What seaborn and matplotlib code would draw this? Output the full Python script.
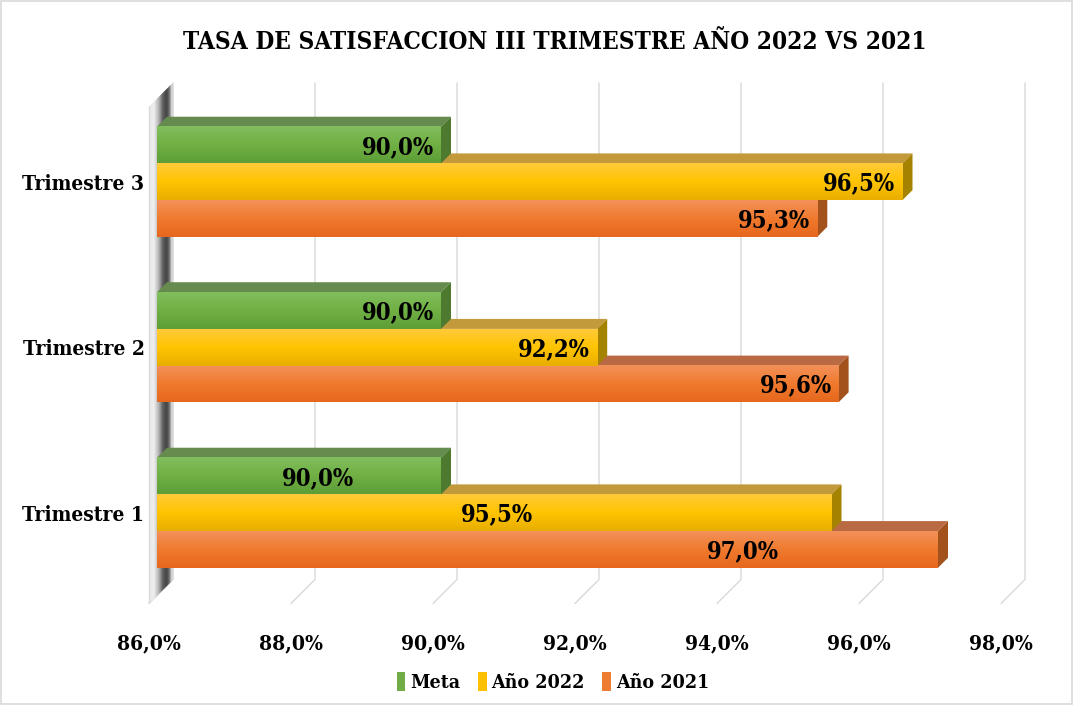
import matplotlib
matplotlib.use("Agg")
import matplotlib.pyplot as plt
import matplotlib.colors as mcolors
from matplotlib.patches import Polygon, Rectangle, Patch
from matplotlib.transforms import ScaledTranslation
import numpy as np
import pandas as pd
import seaborn as sns

# ---------------- data ----------------
categories = ["Trimestre 3", "Trimestre 2", "Trimestre 1"]
series = ["Meta", "Año 2022", "Año 2021"]
meta = [90.0, 90.0, 90.0]
anio_2022 = [96.5, 92.2, 95.5]
anio_2021 = [95.3, 95.6, 97.0]
x_ticks = [86, 88, 90, 92, 94, 96, 98]
title = "TASA DE SATISFACCION III TRIMESTRE AÑO 2022 VS 2021"

df = pd.DataFrame({
    "Trimestre": categories * 3,
    "Serie": [s for s in series for _ in categories],
    "Valor": meta + anio_2022 + anio_2021,
})

# ---------------- style ----------------
colors = {"Meta": "#70AD47", "Año 2022": "#FFC000", "Año 2021": "#ED7D31"}
grad = {  # top, middle, bottom of front face
    "Meta": ["#82be5e", "#6fb043", "#5e9d37"],
    "Año 2022": ["#ffca3a", "#ffc400", "#e8ae00"],
    "Año 2021": ["#f3915a", "#f07a2e", "#e6671d"],
}
top_col = {"Meta": "#668b4e", "Año 2022": "#c29a3b", "Año 2021": "#b96a42"}
side_col = {"Meta": "#4e7a30", "Año 2022": "#a58300", "Año 2021": "#a3521c"}

sns.set_theme(style="white")
plt.rcParams["font.family"] = ["DejaVu Serif"]
plt.rcParams["font.stretch"] = "condensed"
plt.rcParams["font.weight"] = "bold"
plt.rcParams["text.color"] = "black"

W, H = 1074, 705
fig = plt.figure(figsize=(W / 100, H / 100), dpi=100)
ax_left, ax_top, ax_w, ax_h = 157, 99, 852, 496.5
ax = fig.add_axes([ax_left / W, 1 - (ax_top + ax_h) / H, ax_w / W, ax_h / H])

sns.barplot(data=df, y="Trimestre", x="Valor", hue="Serie", order=categories,
            hue_order=series, palette=colors, orient="h", width=0.665,
            legend=False, ax=ax, saturation=1, errorbar=None)

XL = (86, 98)
YL = (2.5, -0.5)
dxp = (XL[1] - XL[0]) / ax_w      # data units per pixel (x)
dyp = (YL[0] - YL[1]) / ax_h      # data units per pixel (y, up = minus)
depth = 10                        # bar depth in px
back = 16                         # back wall offset in px
front = -8                        # floor front offset in px

zbase = {"Meta": 5, "Año 2022": 4, "Año 2021": 3}

for s, cont in zip(series, ax.containers):
    cmap = mcolors.LinearSegmentedColormap.from_list(s, grad[s])
    zb = zbase[s]
    for bar in cont:
        w = bar.get_width()
        y0 = bar.get_y()
        y1 = y0 + bar.get_height()
        bar.set_zorder(zb + 0.1)
        bar.set_edgecolor("none")
        x0 = XL[0]
        ddx, ddy = depth * dxp, depth * dyp
        topf = Polygon([(x0, y0), (w, y0), (w + ddx, y0 - ddy), (x0 + ddx, y0 - ddy)],
                       closed=True, facecolor=top_col[s], edgecolor="none", zorder=zb)
        side = Polygon([(w, y0), (w + ddx, y0 - ddy), (w + ddx, y1 - ddy), (w, y1)],
                       closed=True, facecolor=side_col[s], edgecolor="none", zorder=zb)
        ax.add_patch(topf)
        ax.add_patch(side)
        ax.imshow(np.linspace(0, 1, 64).reshape(-1, 1), cmap=cmap, aspect="auto",
                  extent=(x0, w, y1, y0), origin="upper", zorder=zb + 0.2,
                  interpolation="bilinear")

# data labels
t1_label_x = [88.27, 90.79, 94.25]
for si, (s, cont) in enumerate(zip(series, ax.containers)):
    for ci, bar in enumerate(cont):
        w = bar.get_width()
        yc = bar.get_y() + bar.get_height() / 2 + 0.01
        txt = f"{w:.1f}%".replace(".", ",")
        if categories[ci] == "Trimestre 1":
            ax.text(t1_label_x[si], yc, txt, ha="center", va="center",
                    fontsize=17, color="black", zorder=20)
        else:
            ax.text(w - 7 * dxp, yc, txt, ha="right", va="center",
                    fontsize=17, color="black", zorder=20)

# back wall (left side slab) drawn as thin shaded strips
wall_d = [-8, -7, -3, 2, 6, 10, 13, 15, 16]
wall_c = ["#c8c8c8", "#e6e6e6", "#f0f0f0", "#b4b4b4", "#606060",
          "#424242", "#7a7a7a", "#e8e8e8", "#c4c4c4"]
wcm = mcolors.LinearSegmentedColormap.from_list(
    "wall", list(zip([(d - wall_d[0]) / (wall_d[-1] - wall_d[0]) for d in wall_d], wall_c)))
for d in range(front, back):
    xa, xb = XL[0] + d * dxp, XL[0] + (d + 1) * dxp
    pts = [(xa, YL[1] - d * dyp), (xb, YL[1] - (d + 1) * dyp),
           (xb, YL[0] - (d + 1) * dyp), (xa, YL[0] - d * dyp)]
    c = wcm((d + 0.5 - front) / (back - front))
    ax.add_patch(Polygon(pts, closed=True, facecolor=c, edgecolor=c, lw=0.3,
                         zorder=1.5, clip_on=False))

# gridlines on the back wall + floor
for t in x_ticks:
    xs = [t + back * dxp, t + back * dxp, t + front * dxp]
    ys = [YL[1] - back * dyp, YL[0] - back * dyp, YL[0] - front * dyp]
    ax.plot(xs, ys, color="#d9d9d9", lw=1.0, zorder=1, clip_on=False)

ax.set_xlim(*XL)
ax.set_ylim(*YL)
ax.set_xticks(x_ticks)
ax.set_xticklabels([f"{t:.1f}%".replace(".", ",") for t in x_ticks])
ax.tick_params(axis="x", length=0, pad=27, labelsize=15, labelcolor="black")
ax.tick_params(axis="y", length=0, pad=9, labelsize=15, labelcolor="black")
for lab in ax.get_xticklabels():
    lab.set_transform(lab.get_transform() + ScaledTranslation(-8 / 100, 0, fig.dpi_scale_trans))
ax.set_xlabel("")
ax.set_ylabel("")
ax.grid(False)
for sp in ax.spines.values():
    sp.set_visible(False)
ax.patch.set_alpha(0)

fig.text(555 / W, 1 - 42 / H, title, ha="center", va="center", fontsize=17.5,
         color="black")

handles = [Patch(facecolor=colors[s], edgecolor="none") for s in series]
leg = fig.legend(handles, series, loc="center", bbox_to_anchor=(553 / W, 1 - 682 / H),
                 ncol=3, frameon=False, fontsize=14, handlelength=0.45, handleheight=1.1,
                 handletextpad=0.25, columnspacing=0.9)
for t in leg.get_texts():
    t.set_color("black")

fig.patches.append(Rectangle((0.001, 0.001), 0.997, 0.997, transform=fig.transFigure,
                             fill=False, edgecolor="#d9d9d9", lw=1.2))

fig.savefig("out.png", dpi=100)
